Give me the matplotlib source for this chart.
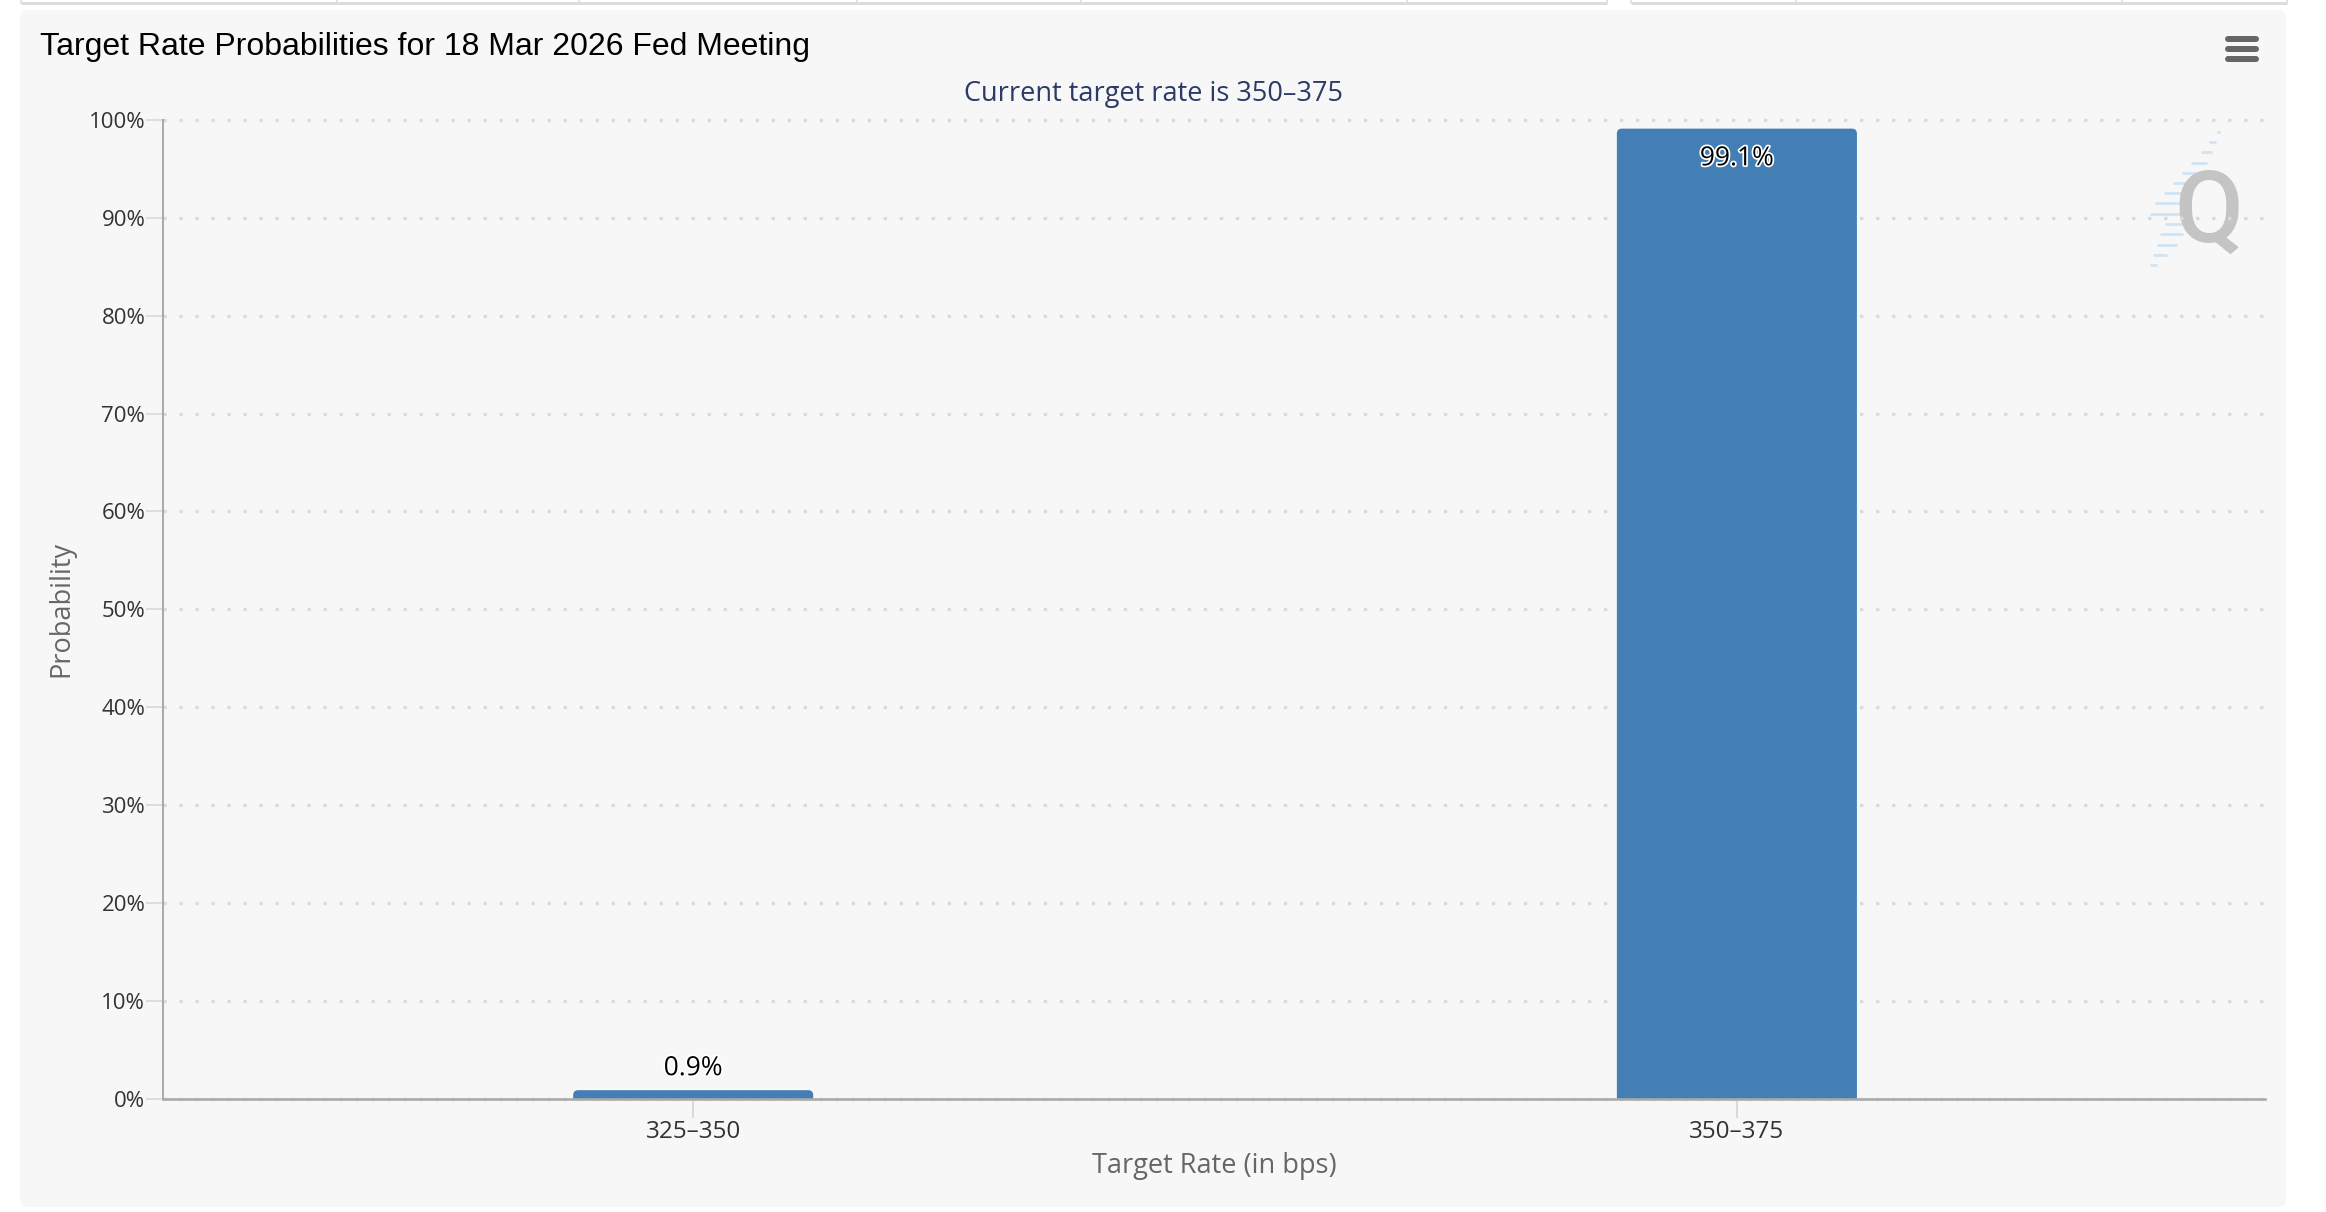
import matplotlib
matplotlib.use('Agg')
import matplotlib.pyplot as plt
from matplotlib.patches import FancyBboxPatch
import matplotlib.patheffects as pe

# ---------------- data ----------------
title = 'Target Rate Probabilities for 18 Mar 2026 Fed Meeting'
subtitle = 'Current target rate is 350–375'
categories = ['325–350', '350–375']
probabilities = [0.9, 99.1]
ytick_values = [0, 10, 20, 30, 40, 50, 60, 70, 80, 90, 100]
ytick_labels = ['0%', '10%', '20%', '30%', '40%', '50%', '60%', '70%', '80%', '90%', '100%']
x_title = 'Target Rate (in bps)'
y_title = 'Probability'

# ---------------- styling ----------------
W, H, DPI = 2326, 1212, 100
BAR = '#437fb5'
SANS = ['Open Sans', 'DejaVu Sans']
PX = 72.0 / DPI  # points per pixel

fig = plt.figure(figsize=(W / DPI, H / DPI), dpi=DPI, facecolor='white')

# background / decoration layer in pixel coordinates (origin top-left)
bg = fig.add_axes([0, 0, 1, 1], zorder=0)
bg.set_xlim(0, W)
bg.set_ylim(H, 0)
bg.axis('off')

bg.add_patch(FancyBboxPatch((20, 10), 2266, 1197,
                            boxstyle='round,pad=0,rounding_size=8',
                            fc='#f7f7f7', ec='none'))

# page tab borders at the very top
for xa, xb in [(21, 1607), (1631, 2287)]:
    bg.plot([xa, xb], [2.5, 2.5], color='#dcdcdc', lw=3 * PX, solid_capstyle='butt')
for xv in [21, 337, 579, 857, 1081, 1407, 1607, 1631, 1796, 2122, 2287]:
    bg.plot([xv, xv], [0, 3], color='#dcdcdc', lw=1.5 * PX)

# hamburger menu
for yy in [39, 49, 59]:
    bg.plot([2228, 2256], [yy, yy], color='#666666', lw=6 * PX, solid_capstyle='round')

# watermark: light blue dashes + grey Q
dashes = [(337, 200, 210), (367, 178, 198), (397, 152, 186), (428, 122, 172),
          (459, 95, 150), (490, 68, 110), (520, 42, 95), (550, 15, 90),
          (581, 0, 95), (612, 45, 95), (643, 30, 100), (674, 20, 80),
          (705, 8, 50), (736, 0, 20)]
for zy, zx0, zx1 in dashes:
    bg.plot([2150 + zx0 / 3, 2150 + zx1 / 3], [20 + zy / 3, 20 + zy / 3],
            color='#cfe3f6', lw=2.7 * PX, solid_capstyle='butt')
bg.text(2209, 242, 'Q', fontsize=72, family=['Roboto', 'DejaVu Sans'],
        weight='medium', color='#c4c4c4', ha='center', va='baseline')

# title & subtitle
bg.text(40, 54.5, title, fontsize=23, family=['Liberation Sans', 'DejaVu Sans'],
        color='#000000', ha='left', va='baseline')
bg.text(1153, 101.5, subtitle, fontsize=19.5, family=SANS,
        color='#2b3a67', ha='center', va='baseline')

# ---------------- main chart ----------------
L, R, T, B = 163, 2265, 119.8, 1099
ax = fig.add_axes([L / W, 1 - B / H, (R - L) / W, (B - T) / H], zorder=1)
ax.patch.set_alpha(0)

xlim = (-0.508, 1.506)
ax.set_xlim(*xlim)
ax.set_ylim(0, 100)

xpos = list(range(len(categories)))
bars = ax.bar(xpos, probabilities, width=0.23, color=BAR, zorder=2)

# rounded-top versions of the bars
xpx = (xlim[1] - xlim[0]) / (R - L)
ypx = 100.0 / (B - T)
rad = 5
for b in bars:
    x0, w, h = b.get_x(), b.get_width(), b.get_height()
    b.set_visible(False)
    ax.add_patch(FancyBboxPatch((x0, -rad * ypx), w, h + rad * ypx,
                                boxstyle=f'round,pad=0,rounding_size={rad * xpx}',
                                mutation_aspect=ypx / xpx,
                                fc=BAR, ec='none', zorder=2))

# data labels
for xi, v in zip(xpos, probabilities):
    off = -36.7 * PX if v > 90 else 15 * PX
    ax.annotate(f'{v}%', (xi, v), xytext=(0, off), textcoords='offset points',
                ha='center', va='baseline', fontsize=19, family=SANS, color='black',
                path_effects=[pe.withStroke(linewidth=2.5, foreground='white')],
                zorder=5)

# grid
ax.set_axisbelow(True)
ax.yaxis.grid(True, color='#dadada', linewidth=3.3 * PX, linestyle=(0, (1, 3.85)))
ax.xaxis.grid(False)
for gl in ax.get_ygridlines():
    gl.set_clip_on(False)

# spines
for s in ['top', 'right']:
    ax.spines[s].set_visible(False)
ax.spines['left'].set_color('#aaaaaa')
ax.spines['left'].set_linewidth(2 * PX)
ax.spines['bottom'].set_color('#aaaaaa')
ax.spines['bottom'].set_linewidth(2.6 * PX)
ax.spines['bottom'].set_zorder(3)

# ticks
ax.set_yticks(ytick_values, ytick_labels)
ax.set_xticks(xpos, categories)
ax.tick_params(axis='y', length=17 * PX, width=2 * PX, color='#dddddd', pad=0.5,
               labelsize=16, labelcolor='#333333')
ax.tick_params(axis='x', length=19 * PX, width=1.5 * PX, color='#d0d0d0', pad=1.5,
               labelsize=17.5, labelcolor='#333333')
for lab in ax.get_xticklabels() + ax.get_yticklabels():
    lab.set_family(SANS)

# axis titles
ax.set_ylabel(y_title, fontsize=19.5, family=SANS, color='#666666')
ax.yaxis.set_label_coords(-0.0419, 0.5)
ax.set_xlabel(x_title, fontsize=19.5, family=SANS, color='#666666')
ax.xaxis.set_label_coords(0.5, -(1173 - B) / (B - T))
ax.xaxis.label.set_va('baseline')

fig.savefig('out.png', dpi=DPI, facecolor='white')
